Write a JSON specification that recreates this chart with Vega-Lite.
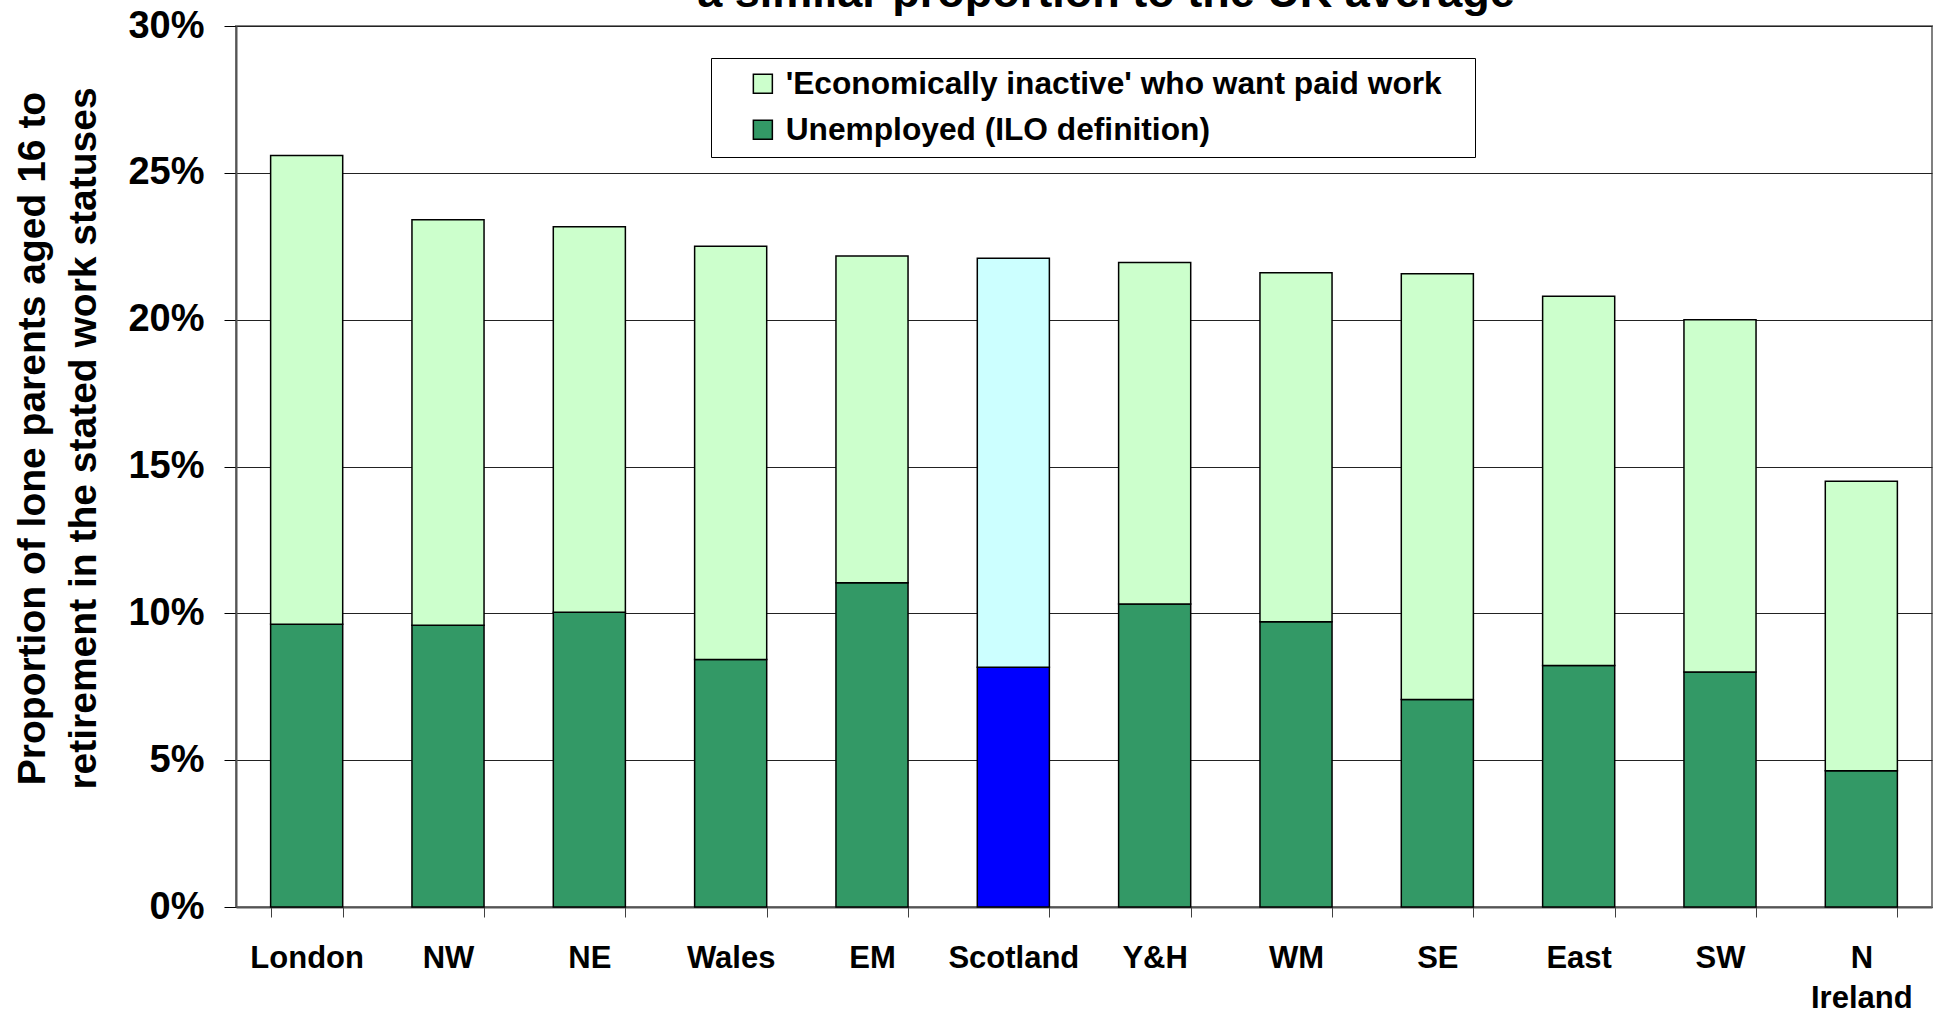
{
  "$schema": "https://vega.github.io/schema/vega-lite/v6.json",
  "width": 1696,
  "height": 881,
  "autosize": {"type": "none"},
  "padding": {"left": 236, "top": 26, "right": 3, "bottom": 103},
  "background": "white",
  "config": {
    "font": "Liberation Sans",
    "view": {"stroke": "#808080", "strokeWidth": 2}
  },
  "title": {
    "text": "a similar proportion to the UK average",
    "fontSize": 45,
    "fontWeight": "bold",
    "color": "black",
    "anchor": "middle",
    "frame": "group",
    "dx": 22,
    "dy": 45,
    "baseline": "alphabetic",
    "offset": 0
  },
  "data": {
    "values": [
      {"region": "London", "status": "Unemployed (ILO definition)", "value": 0.0963},
      {"region": "London", "status": "'Economically inactive' who want paid work", "value": 0.1596},
      {"region": "NW", "status": "Unemployed (ILO definition)", "value": 0.0959},
      {"region": "NW", "status": "'Economically inactive' who want paid work", "value": 0.1381},
      {"region": "NE", "status": "Unemployed (ILO definition)", "value": 0.1004},
      {"region": "NE", "status": "'Economically inactive' who want paid work", "value": 0.1312},
      {"region": "Wales", "status": "Unemployed (ILO definition)", "value": 0.0843},
      {"region": "Wales", "status": "'Economically inactive' who want paid work", "value": 0.1407},
      {"region": "EM", "status": "Unemployed (ILO definition)", "value": 0.1104},
      {"region": "EM", "status": "'Economically inactive' who want paid work", "value": 0.1113},
      {"region": "Scotland", "status": "Unemployed (ILO definition)", "value": 0.0816},
      {"region": "Scotland", "status": "'Economically inactive' who want paid work", "value": 0.1393},
      {"region": "Y&H", "status": "Unemployed (ILO definition)", "value": 0.1032},
      {"region": "Y&H", "status": "'Economically inactive' who want paid work", "value": 0.1163},
      {"region": "WM", "status": "Unemployed (ILO definition)", "value": 0.0971},
      {"region": "WM", "status": "'Economically inactive' who want paid work", "value": 0.1189},
      {"region": "SE", "status": "Unemployed (ILO definition)", "value": 0.0707},
      {"region": "SE", "status": "'Economically inactive' who want paid work", "value": 0.1449},
      {"region": "East", "status": "Unemployed (ILO definition)", "value": 0.0822},
      {"region": "East", "status": "'Economically inactive' who want paid work", "value": 0.1258},
      {"region": "SW", "status": "Unemployed (ILO definition)", "value": 0.0800},
      {"region": "SW", "status": "'Economically inactive' who want paid work", "value": 0.1200},
      {"region": "N Ireland", "status": "Unemployed (ILO definition)", "value": 0.0464},
      {"region": "N Ireland", "status": "'Economically inactive' who want paid work", "value": 0.0986}
    ]
  },
  "mark": {"type": "bar", "stroke": "black", "strokeWidth": 1.5},
  "encoding": {
    "x": {
      "field": "region",
      "type": "nominal",
      "sort": null,
      "scale": {"paddingInner": 0.49, "paddingOuter": 0.245},
      "axis": {
        "title": null,
        "labelAngle": 0,
        "labelFontSize": 31,
        "labelFontWeight": "bold",
        "labelColor": "black",
        "labelBaseline": "top",
        "labelPadding": 26,
        "labelLineHeight": 40,
        "labelExpr": "datum.label == 'N Ireland' ? ['N', 'Ireland'] : datum.label",
        "tickBand": "extent",
        "tickSize": 10,
        "tickColor": "#404040",
        "domainColor": "#555555",
        "domainWidth": 2,
        "grid": false
      }
    },
    "y": {
      "field": "value",
      "type": "quantitative",
      "stack": "zero",
      "scale": {"domain": [0, 0.3], "nice": false},
      "axis": {
        "values": [0, 0.05, 0.1, 0.15, 0.2, 0.25, 0.3],
        "format": ".0%",
        "labelFontSize": 38,
        "labelFontWeight": "bold",
        "labelColor": "black",
        "labelPadding": 20,
        "tickSize": 12,
        "tickColor": "black",
        "domainColor": "#555555",
        "domainWidth": 2,
        "grid": true,
        "gridColor": "#222222",
        "gridWidth": 1,
        "title": ["Proportion of lone parents aged 16 to", "retirement in the stated work statuses"],
        "titleFontSize": 39,
        "titleFontWeight": "bold",
        "titleColor": "black",
        "titleLineHeight": 51,
        "titleAngle": 270,
        "titleAlign": "center",
        "titleBaseline": "alphabetic",
        "titleX": -192,
        "titleY": 412
      }
    },
    "order": {"field": "status", "sort": "descending"},
    "color": {
      "field": "status",
      "type": "nominal",
      "scale": {
        "domain": ["'Economically inactive' who want paid work", "Unemployed (ILO definition)"],
        "range": ["#CCFFCC", "#339966"]
      },
      "condition": [
        {"test": "datum.region === 'Scotland' && datum.status === 'Unemployed (ILO definition)'", "value": "#0000FF"},
        {"test": "datum.region === 'Scotland'", "value": "#CCFFFF"}
      ],
      "legend": {
        "title": null,
        "orient": "none",
        "legendX": 475,
        "legendY": 32,
        "fillColor": "white",
        "strokeColor": "black",
        "padding": 10,
        "symbolType": "square",
        "symbolSize": 361,
        "symbolStrokeColor": "black",
        "symbolStrokeWidth": 1.5,
        "symbolOpacity": 1,
        "symbolOffset": 26,
        "labelOffset": 7,
        "labelFontSize": 31.7,
        "labelFontWeight": "bold",
        "labelColor": "black",
        "labelLimit": 2000,
        "rowPadding": 13,
        "labelExpr": "datum.label + '\u2800'"
      }
    }
  }
}
